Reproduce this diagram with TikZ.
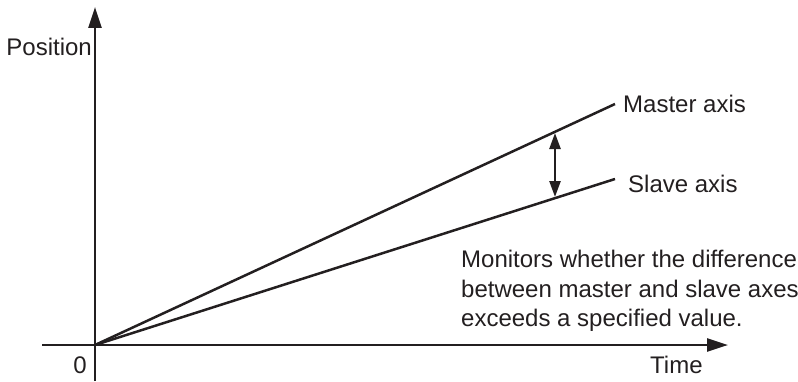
\documentclass[tikz,border=0pt]{standalone}
\usepackage{fontspec}
\setmainfont{Liberation Sans}
\usetikzlibrary{arrows.meta}
\definecolor{ink}{RGB}{35,31,32}
\begin{document}
\begin{tikzpicture}[x=1pt,y=1pt,
  ln/.style={line width=2.5pt,color=ink},
  lbl/.style={font=\fontsize{24}{29.5}\selectfont,text=ink,inner sep=0pt},
  axisarrow/.style={-{Triangle[length=21pt,width=13pt]}},
  diffarrow/.style={{Triangle[length=16pt,width=11pt]}-{Triangle[length=16pt,width=11pt]}}]
\useasboundingbox (0,0) rectangle (798,381);
\coordinate (O) at (95,36);
\coordinate (ytop) at (95,374);
\coordinate (ybot) at (95,0);
\coordinate (xleft) at (42,36);
\coordinate (xright) at (728,36);
\coordinate (mend) at (615,277);
\coordinate (send) at (615,202);
\coordinate (dtop) at (555,248);
\coordinate (dbot) at (555,184);
\draw[ln,axisarrow] (ybot) -- (ytop);
\draw[ln,axisarrow] (xleft) -- (xright);
\draw[ln] (O) -- (mend);
\draw[ln] (O) -- (send);
\draw[ln,diffarrow] (dbot) -- (dtop);
\node[lbl,anchor=base east] (pos) at (92,325) {Position};
\node[lbl,anchor=base west] (master) at (623,269) {Master axis};
\node[lbl,anchor=base west] (slave) at (628,189) {Slave axis};
\node[lbl,anchor=base] (zero) at (80,8) {0};
\node[lbl,anchor=base west] (time) at (650,8) {Time};
\node[lbl,anchor=north west,align=left] (note) at (461,131) {Monitors whether the difference\\between master and slave axes\\exceeds a specified value.};
\end{tikzpicture}
\end{document}
